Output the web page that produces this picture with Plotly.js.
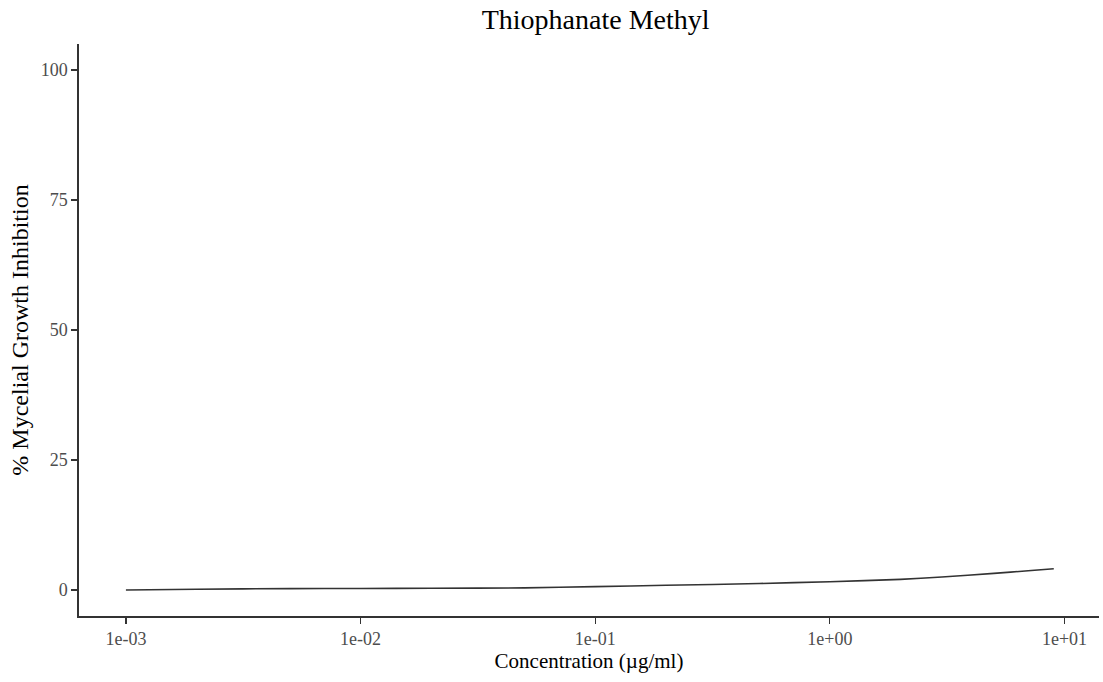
<!DOCTYPE html>
<html>
<head>
<meta charset="utf-8">
<script src="https://cdn.plot.ly/plotly-3.0.1.min.js"></script>
<style>
  html, body { margin: 0; padding: 0; background: #fff; }
  #chart { width: 1103px; height: 682px; }
</style>
</head>
<body>
<div id="chart"></div>
<script>
// Dose-response curve: concentration (µg/ml) vs % mycelial growth inhibition
const concentration = [0.001, 0.002, 0.005, 0.01, 0.02, 0.05, 0.1, 0.2, 0.5, 1, 2, 3, 5, 7, 9];
const inhibition    = [0.0, 0.15, 0.27, 0.3, 0.33, 0.4, 0.65, 0.9, 1.25, 1.6, 2.05, 2.5, 3.2, 3.7, 4.1];

const xTickVals  = [0.001, 0.01, 0.1, 1, 10];
const xTickText  = ["1e-03", "1e-02", "1e-01", "1e+00", "1e+01"];
const yTickVals  = [0, 25, 50, 75, 100];

const serif = "Liberation Serif, Times New Roman, serif";

const trace = {
  x: concentration,
  y: inhibition,
  type: "scatter",
  mode: "lines",
  line: { color: "#333333", width: 1.6, shape: "spline", smoothing: 0.6 },
  hoverinfo: "x+y"
};

const layout = {
  width: 1103,
  height: 682,
  paper_bgcolor: "#ffffff",
  plot_bgcolor: "#ffffff",
  margin: { l: 79, r: 4, t: 44, b: 66 },
  showlegend: false,
  title: {
    text: "Thiophanate Methyl",
    font: { family: serif, size: 28, color: "#000000" },
    x: 0.54, xanchor: "center",
    y: 0.972, yanchor: "middle"
  },
  xaxis: {
    type: "log",
    range: [-3.2, 1.147],
    tickvals: xTickVals,
    ticktext: xTickText,
    ticks: "outside",
    ticklen: 6,
    tickwidth: 1.2,
    tickcolor: "#333333",
    showline: true,
    linecolor: "#333333",
    linewidth: 1.6,
    showgrid: false,
    zeroline: false,
    tickfont: { family: serif, size: 18, color: "#4d4d4d" },
    title: {
      text: "Concentration (µg/ml)",
      font: { family: serif, size: 21, color: "#000000" },
      standoff: 2
    }
  },
  yaxis: {
    range: [-5, 105],
    tickvals: yTickVals,
    ticks: "outside",
    ticklen: 6,
    tickwidth: 1.2,
    tickcolor: "#333333",
    showline: true,
    linecolor: "#333333",
    linewidth: 1.6,
    showgrid: false,
    zeroline: false,
    tickfont: { family: serif, size: 18, color: "#4d4d4d" },
    title: {
      text: "% Mycelial Growth Inhibition",
      font: { family: serif, size: 24, color: "#000000" },
      standoff: 5
    }
  }
};

Plotly.newPlot("chart", [trace], layout, { displayModeBar: false, staticPlot: true });
</script>
</body>
</html>
